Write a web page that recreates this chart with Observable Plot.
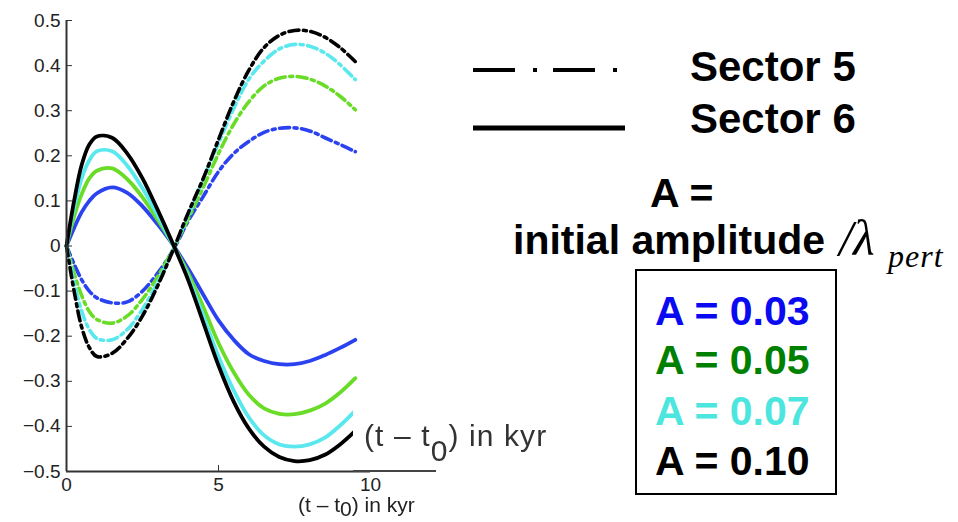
<!DOCTYPE html>
<html>
<head>
<meta charset="utf-8">
<script src="https://cdn.jsdelivr.net/npm/d3@7"></script>
<script src="https://cdn.jsdelivr.net/npm/@observablehq/plot@0.6"></script>
<style>
  body { margin: 0; background: #fff; }
  #fig { position: relative; width: 958px; height: 522px; overflow: hidden; background: #fff;
         font-family: "Liberation Sans", Arial, Helvetica, sans-serif; }
  #fig > svg { position: absolute; left: 0; top: 0; }
  .abs { position: absolute; white-space: nowrap; line-height: 1; }
  .big { font-weight: bold; font-size: 41px; color: #000; }
  .amp { font-weight: bold; font-size: 41px; left: 655px; }
  .serif { font-family: "Liberation Serif", "Times New Roman", serif; font-style: italic; color: #000; }
  sub { font-size: 1em; vertical-align: -0.5em; line-height: 0; }
</style>
</head>
<body>
<div id="fig"></div>
<script>
// Time since perturbation onset, kyr
const tValues = [0, 0.25, 0.5, 0.75, 1, 1.5, 2, 2.5, 3, 3.5, 4, 4.5, 5, 5.5, 6, 6.5, 7, 7.5, 8, 8.5, 9, 9.5];

// Perturbation amplitudes A = initial amplitude / lambda_pert
const amplitudes = [0.03, 0.05, 0.07, 0.10];
const ampLabels = amplitudes.map(a => "A = " + a.toFixed(2));

// Sector 6 (solid lines)
const s6_a03 = [0, 0.04, 0.075, 0.10, 0.117, 0.13, 0.118, 0.088, 0.048, 0.003, -0.05, -0.108, -0.165, -0.208, -0.24, -0.255, -0.262, -0.262, -0.255, -0.242, -0.226, -0.208];
const s6_a05 = [0, 0.065, 0.115, 0.15, 0.167, 0.172, 0.148, 0.108, 0.058, 0.003, -0.06, -0.135, -0.215, -0.28, -0.33, -0.36, -0.372, -0.373, -0.365, -0.35, -0.325, -0.293];
const s6_a07 = [0, 0.085, 0.15, 0.19, 0.21, 0.21, 0.178, 0.128, 0.068, 0.003, -0.068, -0.155, -0.245, -0.32, -0.38, -0.42, -0.44, -0.445, -0.44, -0.425, -0.398, -0.365];
const s6_a10 = [0, 0.10, 0.18, 0.225, 0.243, 0.24, 0.205, 0.15, 0.08, 0.005, -0.075, -0.17, -0.265, -0.345, -0.405, -0.445, -0.468, -0.477, -0.475, -0.463, -0.44, -0.41];

// Sector 5 (dash-dot lines)
const s5_a03 = [0, -0.04, -0.075, -0.10, -0.115, -0.126, -0.124, -0.10, -0.06, -0.01, 0.055, 0.11, 0.165, 0.205, 0.232, 0.252, 0.261, 0.262, 0.255, 0.24, 0.225, 0.209];
const s5_a05 = [0, -0.06, -0.11, -0.145, -0.163, -0.171, -0.155, -0.118, -0.068, -0.008, 0.06, 0.13, 0.205, 0.27, 0.32, 0.355, 0.372, 0.376, 0.37, 0.355, 0.332, 0.302];
const s5_a07 = [0, -0.08, -0.145, -0.185, -0.205, -0.208, -0.185, -0.14, -0.08, -0.01, 0.068, 0.148, 0.228, 0.305, 0.37, 0.41, 0.437, 0.447, 0.443, 0.428, 0.402, 0.369];
const s5_a10 = [0, -0.10, -0.18, -0.225, -0.245, -0.238, -0.205, -0.155, -0.088, -0.01, 0.073, 0.15, 0.236, 0.32, 0.39, 0.44, 0.467, 0.478, 0.476, 0.463, 0.44, 0.409];

// Axis ticks
const xTicks = [0, 5, 10];
const yTicks = [-0.5, -0.4, -0.3, -0.2, -0.1, 0, 0.1, 0.2, 0.3, 0.4, 0.5];

const lineColors = ["#2b42f0", "#68dc26", "#58e8ee", "#000000"];
const textColors = ["#0a0af2", "#008000", "#4de6de", "#000000"];

const sector6 = [s6_a03, s6_a05, s6_a07, s6_a10];
const sector5 = [s5_a03, s5_a05, s5_a07, s5_a10];

function toRows(series) {
  const rows = [];
  series.forEach((vals, i) => vals.forEach((v, j) => rows.push({t: tValues[j], v, a: ampLabels[i]})));
  return rows;
}
const rows6 = toRows(sector6);
const rows5 = toRows(sector5);

const fmtY = d => d === 0 ? "0" : d3.format(".1f")(d);

const chart = Plot.plot({
  width: 958,
  height: 522,
  marginLeft: 66,
  marginRight: 588,
  marginTop: 20,
  marginBottom: 51,
  style: {fontSize: "19px", color: "#222", fontFamily: "'Liberation Sans', Arial, sans-serif", background: "transparent"},
  x: {domain: [0, 10]},
  y: {domain: [-0.5, 0.5]},
  color: {domain: ampLabels, range: lineColors},
  marks: [
    Plot.lineY(rows5, {x: "t", y: "v", z: "a", stroke: "a", strokeWidth: 3.6, curve: "catmull-rom",
      strokeDasharray: "10,4.5,3,4.5"}),
    Plot.lineY(rows6, {x: "t", y: "v", z: "a", stroke: "a", strokeWidth: 3.8, curve: "catmull-rom"}),
    Plot.ruleX([0], {stroke: "#333", strokeWidth: 2}),
    Plot.ruleY([-0.5], {stroke: "#333", strokeWidth: 2}),
    Plot.axisY({ticks: yTicks, tickSize: 6, tickPadding: 6, dx: 6, tickFormat: fmtY, label: null, stroke: "#333"}),
    Plot.axisX({ticks: xTicks, tickSize: 6, tickPadding: 6, dy: -6, tickFormat: d => String(d), label: null, stroke: "#333"})
  ]
});

const fig = document.getElementById("fig");
fig.appendChild(chart);

function addDiv(html, cls, css) {
  const d = document.createElement("div");
  d.className = "abs " + (cls || "");
  d.innerHTML = html;
  Object.assign(d.style, css || {});
  fig.appendChild(d);
  return d;
}

// Axis title under the x axis
addDiv("(t \u2013 t<sub style='vertical-align:-0.2em'>0</sub>) in kyr", "", {left: "298px", top: "494px", fontSize: "21px", color: "#222", filter: "blur(0.3px)"});

// Enlarged axis title on a white patch at the end of the x axis
addDiv("", "", {left: "353px", top: "404px", width: "192px", height: "66px", background: "#fff"});
addDiv("", "", {left: "353px", top: "470px", width: "83px", height: "2px", background: "#444"});
addDiv("(t \u2013 t<sub>0</sub>) in kyr", "", {left: "364px", top: "421px", fontSize: "30px", color: "#333", letterSpacing: "1.1px", filter: "blur(0.4px)"});

// Line-style key
const ns = "http://www.w3.org/2000/svg";
const key = document.createElementNS(ns, "svg");
key.setAttribute("width", 958);
key.setAttribute("height", 522);
key.style.pointerEvents = "none";
key.innerHTML =
  '<line x1="473" x2="620" y1="70" y2="70" stroke="#000" stroke-width="4" stroke-dasharray="42,18,4,16"/>' +
  '<line x1="473" x2="625" y1="128" y2="128" stroke="#000" stroke-width="5"/>';
fig.appendChild(key);

addDiv("Sector 5", "big", {left: "690px", top: "46px", fontSize: "42px"});
addDiv("Sector 6", "big", {left: "690px", top: "98px", fontSize: "42px"});
addDiv("A =", "big", {left: "650px", top: "173px"});
addDiv("initial amplitude", "big", {left: "513px", top: "220px"});
addDiv("/\u03bb", "serif", {left: "839px", top: "213px", fontSize: "50px"});
addDiv("pert", "serif", {left: "888px", top: "240px", fontSize: "32px", letterSpacing: "1px"});

// Amplitude key box
addDiv("", "", {left: "635px", top: "269px", width: "198px", height: "222px", border: "2.5px solid #000"});
const tops = [291, 340, 391, 441];
ampLabels.forEach((s, i) => addDiv(s, "amp", {top: tops[i] + "px", color: textColors[i]}));
</script>
</body>
</html>
